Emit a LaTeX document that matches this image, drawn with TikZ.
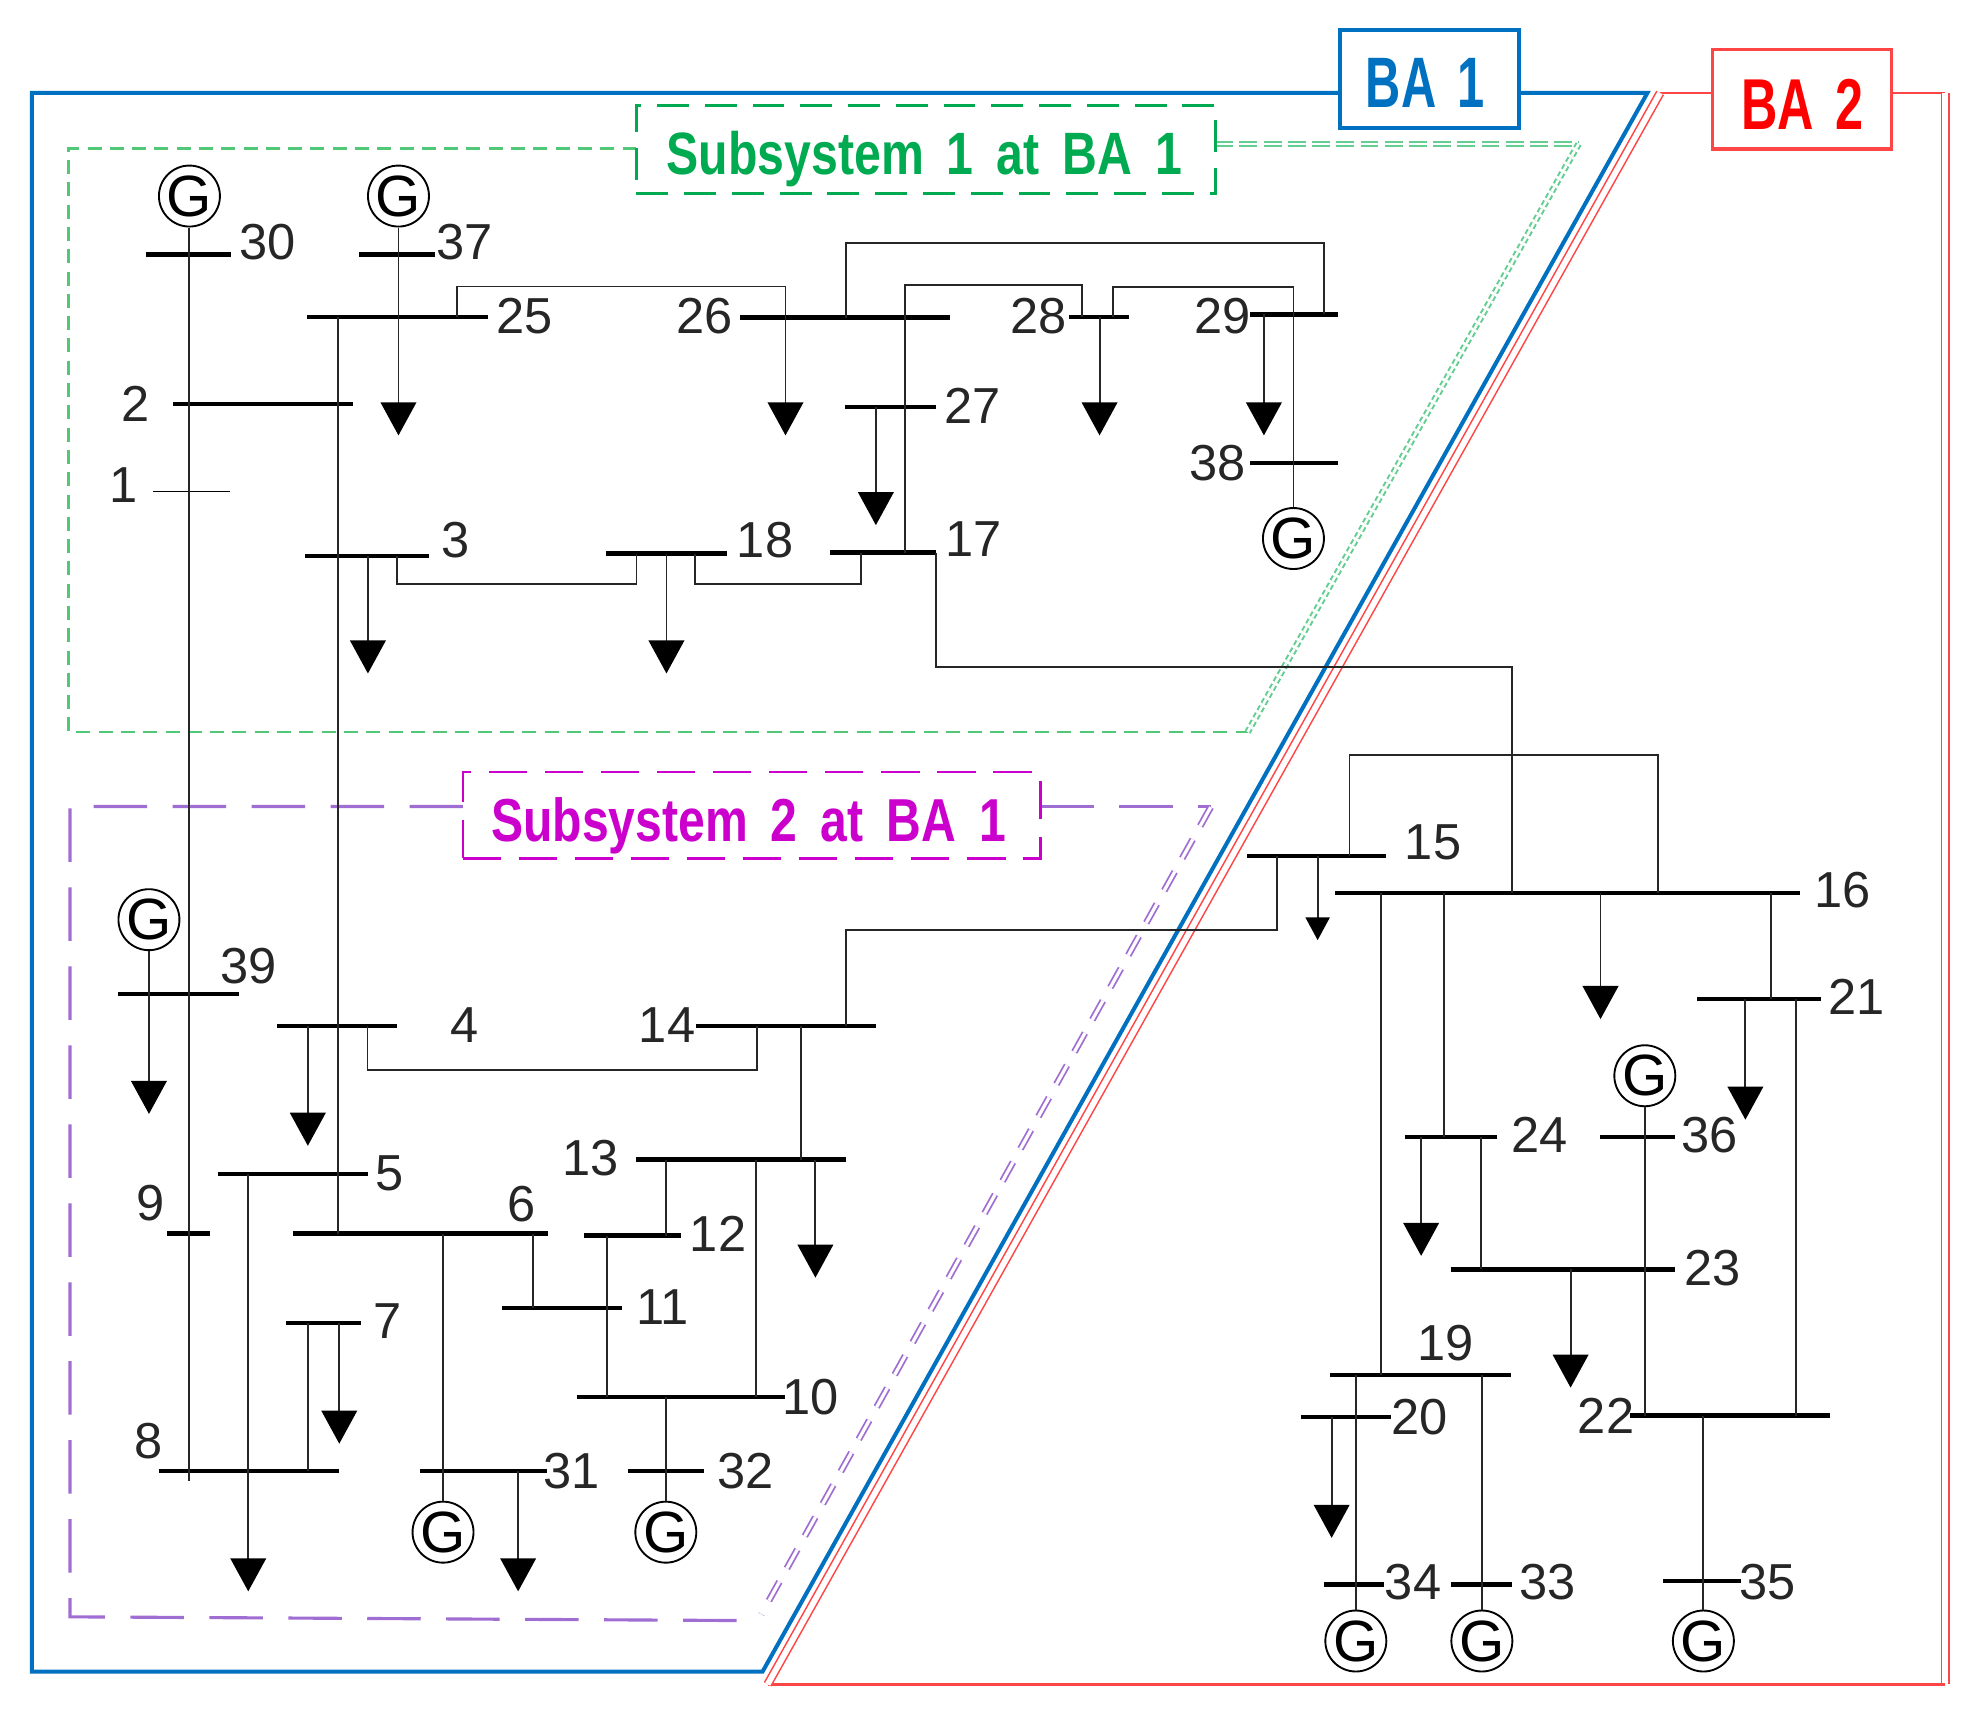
\documentclass[tikz,border=0pt]{standalone}
\usepackage{fontspec}
\setmainfont{Liberation Sans}
\usepackage{graphicx}
\usetikzlibrary{arrows.meta}
\definecolor{baone}{RGB}{0,112,192}
\definecolor{batwo}{RGB}{255,70,70}
\definecolor{batwotext}{RGB}{255,0,0}
\definecolor{subone}{RGB}{0,170,80}
\definecolor{suboneline}{RGB}{80,200,120}
\definecolor{subonepale}{RGB}{100,205,145}
\definecolor{subtwo}{RGB}{204,0,204}
\definecolor{subtwoline}{RGB}{160,110,210}
\begin{document}
\begin{tikzpicture}[x=0.01cm,y=-0.01cm,
  bus/.style={fill=black, draw=none, rectangle, inner sep=0pt, minimum height=0.035cm},
  thinbus/.style={bus, minimum height=0.014cm},
  ln/.style={line width=0.42pt, draw=black!85},
  load/.style={ln, -{Triangle[width=0.28cm,length=0.26cm,color=black]}},
  smallload/.style={ln, -{Triangle[width=0.19cm,length=0.18cm,color=black]}},
  gen/.style={circle, draw=black, line width=0.42pt, minimum size=0.46cm, inner sep=0pt, fill=white, font=\fontsize{13}{13}\selectfont},
  lab/.style={inner sep=0pt, text=black!85, font=\fontsize{11.3}{12}\selectfont},
  labelbox/.style={inner sep=0pt, fill=white},
]
\useasboundingbox (0,0) rectangle (1560,1363);

% ---------- area frames ----------
% Subsystem 1 (green)
\draw[suboneline, line width=0.6pt, dash pattern=on 0.11cm off 0.065cm] (500,116.5) -- (54,116.5) -- (54,575) -- (980,575);
\draw[subonepale, line width=0.45pt, double=white, double distance=0.02cm, dash pattern=on 0.14cm off 0.05cm] (954.6,113) -- (1240,113);
\draw[subonepale, line width=0.45pt, double=white, double distance=0.02cm, dash pattern=on 0.04cm off 0.025cm] (1240,113) -- (980,575);
% Subsystem 2 (purple)
\draw[subtwoline, line width=0.7pt, dash pattern=on 0.42cm off 0.2cm] (363.7,633.5) -- (55,633.5) -- (55,1270) -- (595,1273);
\draw[subtwoline, line width=0.7pt, dash pattern=on 0.42cm off 0.2cm] (817,633.5) -- (951,633.5);
\draw[subtwoline, line width=0.4pt, double=white, double distance=0.025cm, dash pattern=on 0.17cm off 0.12cm] (951,634) -- (598,1268);
% BA 1 (blue)
\draw[baone, line width=0.9pt] (1193,73) -- (1294,73) -- (599,1313) -- (25,1313) -- (25,73) -- (1052.8,73);
% BA 2 (red)
\draw[batwo, line width=0.6pt] (1304,73) -- (1528,73);
\draw[batwo, line width=0.35pt, double=white, double distance=0.045cm] (1528,73) -- (1528,1323);
\draw[batwo, line width=0.6pt] (1528,1323) -- (603,1323);
\draw[batwo, line width=0.35pt, double=white, double distance=0.045cm] (603,1323) -- (1304,73);

% ---------- title boxes ----------
\node[labelbox, draw=baone, line width=0.9pt, minimum width=1.402cm, minimum height=0.77cm] (ba1box) at (1122.9,62.2) {};
\node[anchor=base, inner sep=0pt, text=baone] (ba1text) at (1119.5,84.6) {\resizebox{0.93cm}{0.386cm}{\bfseries BA\hspace{0.15em} 1}};
\node[labelbox, draw=batwo, line width=0.7pt, minimum width=1.41cm, minimum height=0.783cm] (ba2box) at (1415.5,77.85) {};
\node[anchor=base, inner sep=0pt, text=batwotext] (ba2text) at (1415.6,101.5) {\resizebox{0.96cm}{0.395cm}{\bfseries BA\hspace{0.15em} 2}};
\node[labelbox, draw=subone, line width=0.6pt, dash pattern=on 0.25cm off 0.125cm, minimum width=4.546cm, minimum height=0.695cm] (s1box) at (727.3,117.45) {};
\node[anchor=base, inner sep=0pt, text=subone] (s1text) at (726.2,137) {\resizebox{4.05cm}{0.34cm}{\bfseries Subsystem\hspace{0.2em} 1\hspace{0.2em} at\hspace{0.2em} BA\hspace{0.2em} 1}};
\node[labelbox, draw=subtwo, line width=0.6pt, dash pattern=on 0.3cm off 0.14cm, minimum width=4.533cm, minimum height=0.679cm] (s2box) at (590.35,640.45) {};
\node[anchor=base, inner sep=0pt, text=subtwo] (s2text) at (588,660.7) {\resizebox{4.04cm}{0.345cm}{\bfseries Subsystem\hspace{0.2em} 2\hspace{0.2em} at\hspace{0.2em} BA\hspace{0.2em} 1}};

% ---------- buses ----------
\node[bus, minimum width=0.664cm] (b30) at (148.2,200) {};
\node[bus, minimum width=0.60cm] (b37) at (312,200) {};
\node[bus, minimum width=1.415cm] (b25) at (312.25,248.8) {};
\node[bus, minimum width=1.655cm] (b26) at (663.75,249.4) {};
\node[bus, minimum width=0.47cm] (b28) at (863.5,249) {};
\node[bus, minimum width=0.69cm] (b29) at (1016.5,247) {};
\node[bus, minimum width=0.69cm] (b38) at (1016.5,363.7) {};
\node[bus, minimum width=0.71cm] (b27) at (699.5,319.5) {};
\node[bus, minimum width=1.41cm] (b2) at (206.5,317.5) {};
\node[thinbus, minimum width=0.61cm] (b1) at (150.5,386) {};
\node[bus, minimum width=0.972cm] (b3) at (288.1,436.7) {};
\node[bus, minimum width=0.95cm] (b18) at (523.5,434.8) {};
\node[bus, minimum width=0.83cm] (b17) at (693.5,434) {};
\node[bus, minimum width=1.095cm] (b15) at (1034.25,672.5) {};
\node[bus, minimum width=3.654cm] (b16) at (1231.3,701.4) {};
\node[bus, minimum width=0.97cm] (b21) at (1381.5,784.7) {};
\node[bus, minimum width=0.72cm] (b24) at (1140,893) {};
\node[bus, minimum width=0.59cm] (b36) at (1286.5,893) {};
\node[bus, minimum width=1.76cm] (b23) at (1228,997) {};
\node[bus, minimum width=1.42cm] (b19) at (1116,1080) {};
\node[bus, minimum width=0.705cm] (b20) at (1057.25,1113) {};
\node[bus, minimum width=1.571cm] (b22) at (1359.05,1112) {};
\node[bus, minimum width=0.47cm] (b34) at (1063.5,1244.5) {};
\node[bus, minimum width=0.48cm] (b33) at (1164,1244.5) {};
\node[bus, minimum width=0.617cm] (b35) at (1336.85,1242) {};
\node[bus, minimum width=0.947cm] (b39) at (140.15,780.6) {};
\node[bus, minimum width=0.94cm] (b4) at (265,806) {};
\node[bus, minimum width=1.413cm] (b14) at (617.35,806) {};
\node[bus, minimum width=1.649cm] (b13) at (582.25,910.8) {};
\node[bus, minimum width=0.76cm] (b12) at (497,970.5) {};
\node[bus, minimum width=1.177cm] (b5) at (229.85,922) {};
\node[bus, minimum width=2.0cm] (b6) at (330,969) {};
\node[bus, minimum width=0.345cm] (b9) at (148.05,969) {};
\node[bus, minimum width=0.938cm] (b11) at (441.6,1027.3) {};
\node[bus, minimum width=0.592cm] (b7) at (254.1,1039) {};
\node[bus, minimum width=1.416cm] (b8) at (195.6,1155.6) {};
\node[bus, minimum width=1.637cm] (b10) at (534.85,1097.5) {};
\node[bus, minimum width=0.997cm] (b31) at (379.45,1155.6) {};
\node[bus, minimum width=0.592cm] (b32) at (523.1,1155.6) {};

% ---------- generators ----------
\node[gen] (g30) at (148.8,154) {G};
\node[gen] (g37) at (313,154) {G};
\node[gen] (g38) at (1016,423) {G};
\node[gen] (g39) at (117,722.4) {G};
\node[gen] (g31) at (348,1203.5) {G};
\node[gen] (g32) at (523,1203.5) {G};
\node[gen] (g36) at (1292,845) {G};
\node[gen] (g34) at (1065,1289) {G};
\node[gen] (g33) at (1164,1289) {G};
\node[gen] (g35) at (1338,1289) {G};

% ---------- connectors (upper area) ----------
\draw[ln] (g30) -- (148.8,1163);
\draw[load] (g37) -- (313,342);
\draw[ln] (265.5,0 |- b25) -- (265.5,0 |- b6);
\draw[load] (358.7,0 |- b25) -- (358.7,225) -- (617,225) -- (617,342);
\draw[ln] (664.8,0 |- b26) -- (664.8,191) -- (1040,191) -- (1040,0 |- b29);
\draw[ln] (711,0 |- b17) -- (711,223.7) -- (850,223.7) -- (850,0 |- b28);
\draw[ln] (874.5,0 |- b28) -- (874.5,225.5) -- (1016,225.5) -- (g38);
\draw[load] (863.7,0 |- b28) -- (863.7,342);
\draw[load] (992.8,0 |- b29) -- (992.8,342);
\draw[load] (688,0 |- b27) -- (688,412.5);
\draw[load] (289,0 |- b3) -- (289,529);
\draw[load] (523.5,0 |- b18) -- (523.5,529);
\draw[ln] (312,0 |- b3) -- (312,459) -- (500,459) -- (500,0 |- b18);
\draw[ln] (546,0 |- b18) -- (546,459) -- (676,459) -- (676,0 |- b17);
\draw[ln] (735,0 |- b17) -- (735,523.6) -- (1187.4,523.6) -- (1187.4,0 |- b16);
\draw[ln] (1060,0 |- b15) -- (1060,592.7) -- (1302,592.7) -- (1302,0 |- b16);
\draw[ln] (1003,0 |- b15) -- (1003,730.6) -- (664.7,730.6) -- (664.7,0 |- b14);
\draw[smallload] (1035,0 |- b15) -- (1035,738.5);

% ---------- connectors (BA 2) ----------
\draw[ln] (1084.7,0 |- b16) -- (1084.7,0 |- b19);
\draw[ln] (1134.4,0 |- b16) -- (1134.4,0 |- b24);
\draw[load] (1257.2,0 |- b16) -- (1257.2,800.5);
\draw[ln] (1390.8,0 |- b16) -- (1390.8,0 |- b21);
\draw[load] (1371,0 |- b21) -- (1371,879.5);
\draw[ln] (1411,0 |- b21) -- (1411,0 |- b22);
\draw[load] (1116.3,0 |- b24) -- (1116.3,986.5);
\draw[ln] (1163.5,0 |- b24) -- (1163.5,0 |- b23);
\draw[load] (1233.7,0 |- b23) -- (1233.7,1090);
\draw[ln] (g36) -- (1292,0 |- b22);
\draw[ln] (1338,0 |- b22) -- (g35);
\draw[ln] (1065,0 |- b19) -- (g34);
\draw[ln] (1164,0 |- b19) -- (g33);
\draw[load] (1046,0 |- b20) -- (1046,1208);

% ---------- connectors (lower left) ----------
\draw[load] (g39) -- (117,875);
\draw[load] (241.8,0 |- b4) -- (241.8,900);
\draw[ln] (288.7,0 |- b4) -- (288.7,840.8) -- (594.6,840.8) -- (594.6,0 |- b14);
\draw[ln] (629,0 |- b14) -- (629,0 |- b13);
\draw[ln] (523,0 |- b13) -- (523,0 |- b12);
\draw[load] (640.5,0 |- b13) -- (640.5,1003.6);
\draw[ln] (593.6,0 |- b13) -- (593.6,0 |- b10);
\draw[load] (195,0 |- b5) -- (195,1250);
\draw[ln] (348,0 |- b6) -- (g31);
\draw[ln] (418.5,0 |- b6) -- (418.5,0 |- b11);
\draw[ln] (477,0 |- b12) -- (477,0 |- b10);
\draw[ln] (241.8,0 |- b7) -- (241.8,0 |- b8);
\draw[load] (266.5,0 |- b7) -- (266.5,1134);
\draw[ln] (523,0 |- b10) -- (g32);
\draw[load] (407,0 |- b31) -- (407,1250);

% ---------- bus labels ----------
\node[lab] (l30) at (210.4,189.8) {30};
\node[lab] (l37) at (364.7,189.8) {37};
\node[lab] (l25) at (411.8,248) {25};
\node[lab] (l26) at (553.6,248) {26};
\node[lab] (l28) at (815.7,248.2) {28};
\node[lab] (l29) at (960,248) {29};
\node[lab] (l27) at (763.8,318.5) {27};
\node[lab] (l38) at (956.7,364) {38};
\node[lab] (l17) at (764.5,423.6) {17};
\node[lab] (l18) at (601,424.6) {18};
\node[lab] (l3) at (358,424.6) {3};
\node[lab] (l2) at (106.7,317.5) {2};
\node[lab] (l1) at (96.7,381) {1};
\node[lab] (l15) at (1125.7,661.4) {15};
\node[lab] (l16) at (1447.6,699) {16};
\node[lab] (l21) at (1458,783) {21};
\node[lab] (l36) at (1342.6,891.6) {36};
\node[lab] (l24) at (1209,891.6) {24};
\node[lab] (l23) at (1345,996) {23};
\node[lab] (l19) at (1135.5,1055) {19};
\node[lab] (l20) at (1115,1113) {20};
\node[lab] (l22) at (1261.6,1112) {22};
\node[lab] (l34) at (1110,1243) {34};
\node[lab] (l33) at (1215.8,1243) {33};
\node[lab] (l35) at (1388.5,1243) {35};
\node[lab] (l39) at (195,759) {39};
\node[lab] (l4) at (365,805) {4};
\node[lab] (l14) at (524,805) {14};
\node[lab] (l13) at (463.8,909.7) {13};
\node[lab] (l12) at (564,969) {12};
\node[lab] (l5) at (306,922) {5};
\node[lab] (l6) at (409.5,945.4) {6};
\node[lab] (l9) at (118.4,945) {9};
\node[lab] (l11) at (520.6,1026.7) {11};
\node[lab] (l7) at (304.5,1038) {7};
\node[lab] (l8) at (117,1132) {8};
\node[lab] (l10) at (636.5,1097.5) {10};
\node[lab] (l31) at (449,1155.6) {31};
\node[lab] (l32) at (585.7,1155.6) {32};
\end{tikzpicture}
\end{document}
